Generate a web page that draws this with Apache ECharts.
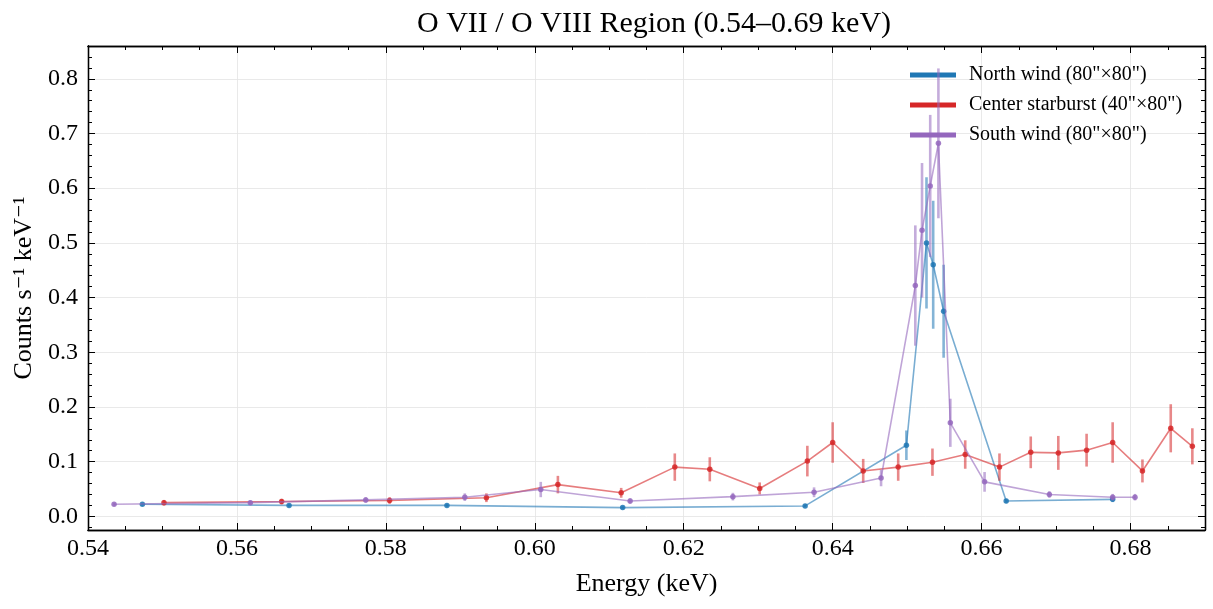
<!DOCTYPE html>
<html>
<head>
<meta charset="utf-8">
<script src="https://cdn.jsdelivr.net/npm/echarts@6/dist/echarts.min.js"></script>
<style>html,body{margin:0;padding:0;background:#fff;}#c{width:1213px;height:609px;}</style>
</head>
<body>
<div id="c"></div>
<script>
// ---- data ----
const northE = [0.5473, 0.5670, 0.5882, 0.6118, 0.6363, 0.6499, 0.6526, 0.6535, 0.6549, 0.6633, 0.6776];
const northV = [0.022, 0.020, 0.020, 0.016, 0.019, 0.130, 0.500, 0.460, 0.375, 0.028, 0.031];
const northErr = [0.003, 0.003, 0.003, 0.003, 0.003, 0.027, 0.120, 0.117, 0.085, 0.004, 0.005];

const centerE = [0.5502, 0.5660, 0.5805, 0.5935, 0.6031, 0.6116, 0.6188, 0.6235, 0.6302, 0.6366, 0.6400, 0.6441, 0.6488, 0.6534, 0.6578, 0.6624, 0.6666, 0.6703, 0.6741, 0.6776, 0.6816, 0.6854, 0.6883];
const centerV = [0.025, 0.027, 0.029, 0.034, 0.058, 0.043, 0.090, 0.086, 0.051, 0.101, 0.135, 0.083, 0.090, 0.099, 0.113, 0.090, 0.117, 0.116, 0.121, 0.135, 0.083, 0.161, 0.128];
const centerErr = [0.005, 0.005, 0.006, 0.008, 0.016, 0.009, 0.025, 0.022, 0.011, 0.028, 0.037, 0.022, 0.025, 0.025, 0.026, 0.025, 0.029, 0.031, 0.030, 0.037, 0.021, 0.044, 0.033];

const southE = [0.5435, 0.5618, 0.5773, 0.5906, 0.6008, 0.6128, 0.6266, 0.6375, 0.6465, 0.6511, 0.6520, 0.6531, 0.6542, 0.6558, 0.6604, 0.6691, 0.6776, 0.6806];
const southV = [0.022, 0.025, 0.030, 0.035, 0.049, 0.028, 0.036, 0.044, 0.070, 0.422, 0.523, 0.604, 0.682, 0.171, 0.063, 0.040, 0.035, 0.035];
const southErr = [0.003, 0.004, 0.005, 0.007, 0.014, 0.005, 0.007, 0.009, 0.015, 0.110, 0.123, 0.130, 0.137, 0.044, 0.018, 0.006, 0.006, 0.006];

const xMajorTicks = [0.54, 0.56, 0.58, 0.60, 0.62, 0.64, 0.66, 0.68];
const xMinorTicks = [0.545, 0.55, 0.555, 0.565, 0.57, 0.575, 0.585, 0.59, 0.595, 0.605, 0.61, 0.615, 0.625, 0.63, 0.635, 0.645, 0.65, 0.655, 0.665, 0.67, 0.675, 0.685];
const yMajorTicks = [0.0, 0.1, 0.2, 0.3, 0.4, 0.5, 0.6, 0.7, 0.8];
const yMinorTicks = [-0.02, 0.02, 0.04, 0.06, 0.08, 0.12, 0.14, 0.16, 0.18, 0.22, 0.24, 0.26, 0.28, 0.32, 0.34, 0.36, 0.38, 0.42, 0.44, 0.46, 0.48, 0.52, 0.54, 0.56, 0.58, 0.62, 0.64, 0.66, 0.68, 0.72, 0.74, 0.76, 0.78, 0.82, 0.84];

const seriesNames = ['North wind (80"×80")', 'Center starburst (40"×80")', 'South wind (80"×80")'];
const colors = ['#1f77b4', '#d62728', '#9467bd'];

const X_MIN = 0.54, X_MAX = 0.69, Y_MIN = -0.025, Y_MAX = 0.86;
const FONT = '"Liberation Serif", "DejaVu Serif", serif';

function xAxisDef(pos, ticks, len, labels, split) {
  return {
    type: 'value', position: pos, min: X_MIN, max: X_MAX,
    axisLine: { show: true, onZero: false, lineStyle: { color: '#000', width: 1.3 } },
    axisTick: { show: true, inside: true, length: len, customValues: ticks, lineStyle: { color: '#000', width: 1 } },
    axisLabel: { show: labels, customValues: ticks, formatter: v => v.toFixed(2), color: '#000', fontFamily: FONT, fontSize: 24, margin: 7 },
    splitLine: { show: split, lineStyle: { color: '#e3e3e3', width: 0.8 } },
    minorTick: { show: false }
  };
}
function yAxisDef(pos, ticks, len, labels, split) {
  return {
    type: 'value', position: pos, min: Y_MIN, max: Y_MAX,
    axisLine: { show: true, onZero: false, lineStyle: { color: '#000', width: 1.3 } },
    axisTick: { show: true, inside: true, length: len, customValues: ticks, lineStyle: { color: '#000', width: 1 } },
    axisLabel: { show: labels, customValues: ticks, formatter: v => v.toFixed(1), color: '#000', fontFamily: FONT, fontSize: 24, margin: 10 },
    splitLine: { show: split, lineStyle: { color: '#e3e3e3', width: 0.8 } },
    minorTick: { show: false }
  };
}

const xAxes = [
  Object.assign(xAxisDef('bottom', xMajorTicks, 7, true, true), {
    name: 'Energy (keV)', nameLocation: 'middle', nameGap: 41,
    nameTextStyle: { color: '#000', fontFamily: FONT, fontSize: 26 }
  }),
  xAxisDef('bottom', xMinorTicks, 4, false, false),
  xAxisDef('top', xMajorTicks, 7, false, false),
  xAxisDef('top', xMinorTicks, 4, false, false)
];
const yAxes = [
  Object.assign(yAxisDef('left', yMajorTicks, 7, true, true), {
    name: 'Counts s\u207B\u00B9 keV\u207B\u00B9', nameLocation: 'middle', nameGap: 51,
    nameTextStyle: { color: '#000', fontFamily: FONT, fontSize: 26 }
  }),
  yAxisDef('left', yMinorTicks, 4, false, false),
  yAxisDef('right', yMajorTicks, 7, false, false),
  yAxisDef('right', yMinorTicks, 4, false, false)
];

function zip3(a, b, c) { return a.map((v, i) => [v, b[i], c[i]]); }
const groups = [
  [northE, northV, northErr],
  [centerE, centerV, centerErr],
  [southE, southV, southErr]
];

const series = [];
groups.forEach((g, k) => {
  const col = colors[k];
  series.push({
    name: seriesNames[k] + ' err',
    type: 'custom',
    xAxisIndex: 0, yAxisIndex: 0,
    data: zip3(g[0], g[1], g[2]),
    encode: { x: 0, y: 1 },
    z: 2 + k * 3,
    silent: true,
    renderItem: function (params, api) {
      const x = api.value(0), y = api.value(1), e = api.value(2);
      const p1 = api.coord([x, y - e]);
      const p2 = api.coord([x, y + e]);
      return {
        type: 'line',
        shape: { x1: p1[0], y1: p1[1], x2: p2[0], y2: p2[1] },
        style: { stroke: col, lineWidth: 2.6, opacity: 0.55 }
      };
    }
  });
  series.push({
    name: seriesNames[k],
    type: 'line',
    xAxisIndex: 0, yAxisIndex: 0,
    data: g[0].map((e, i) => [e, g[1][i]]),
    z: 3 + k * 3,
    symbol: 'circle', symbolSize: 5.5, showSymbol: true,
    lineStyle: { color: col, width: 1.6, opacity: 0.6 },
    itemStyle: { color: col, opacity: 0.85 },
    emphasis: { disabled: true },
    silent: true
  });
});

const chart = echarts.init(document.getElementById('c'), null, { renderer: 'canvas' });
chart.setOption({
  animation: false,
  backgroundColor: '#fff',
  title: {
    text: 'O VII / O VIII Region (0.54\u20130.69 keV)',
    left: 649, textAlign: 'center', top: 4,
    textStyle: { color: '#000', fontFamily: FONT, fontSize: 30, fontWeight: 'normal' }
  },
  legend: {
    orient: 'vertical', left: 905, top: 59,
    itemWidth: 46, itemHeight: 5, itemGap: 8,
    data: seriesNames.map(n => ({ name: n, icon: 'rect' })),
    itemStyle: { opacity: 1 },
    textStyle: { color: '#000', fontFamily: FONT, fontSize: 20, lineHeight: 22, padding: [0, 0, 0, 8] }
  },
  grid: { left: 88, right: 8, top: 46, bottom: 79, containLabel: false },
  xAxis: xAxes,
  yAxis: yAxes,
  series: series
});
</script>
</body>
</html>
